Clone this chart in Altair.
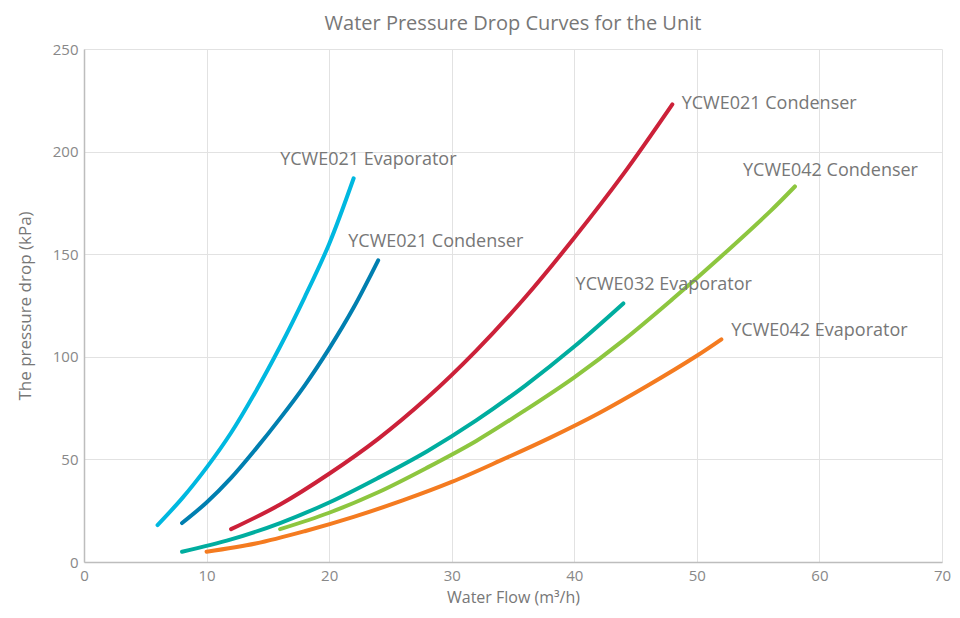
import altair as alt
import pandas as pd

# ---- data ----
series_names = [
    "YCWE021 Evaporator",
    "YCWE021 Condenser (small)",
    "YCWE021 Condenser",
    "YCWE032 Evaporator",
    "YCWE042 Condenser",
    "YCWE042 Evaporator",
]
series_colors = ["#00b8e0", "#007fb0", "#cc2139", "#00ad9f", "#8dc63f", "#f47b20"]

evap021_x = [6, 8, 10, 12, 14, 16, 18, 20, 22]
evap021_y = [18, 31, 46, 63, 83, 105, 129, 155, 187]

cond021s_x = [8, 10, 12, 14, 16, 18, 20, 22, 24]
cond021s_y = [19, 29, 41, 55, 70, 86, 104, 124, 147]

cond021_x = [12, 16, 20, 24, 28, 32, 36, 40, 44, 48]
cond021_y = [16, 28, 43, 60, 80, 103, 129, 158, 189, 223]

evap032_x = [8, 12, 16, 20, 24, 28, 32, 36, 40, 44]
evap032_y = [5, 11, 19, 29, 41, 54, 69, 86, 105, 126]

cond042_x = [16, 20, 24, 28, 32, 36, 40, 44, 48, 52, 56, 58]
cond042_y = [16, 24, 34, 46, 59, 74, 90, 108, 128, 149, 171, 183]

evap042_x = [10, 14, 18, 22, 26, 30, 34, 38, 42, 46, 50, 52]
evap042_y = [5, 9, 15, 22, 30, 39, 49.5, 60.5, 72.5, 86, 100.5, 108.5]

label_texts = [
    "YCWE021 Evaporator",
    "YCWE021 Condenser",
    "YCWE021 Condenser",
    "YCWE032 Evaporator",
    "YCWE042 Condenser",
    "YCWE042 Evaporator",
]
label_x = [23.2, 28.7, 55.9, 47.3, 60.9, 60.0]
label_y = [196, 156, 223, 135, 190.5, 112.6]

x_ticks = [0, 10, 20, 30, 40, 50, 60, 70]
y_ticks = [0, 50, 100, 150, 200, 250]

# ---- build tables ----
all_x = [evap021_x, cond021s_x, cond021_x, evap032_x, cond042_x, evap042_x]
all_y = [evap021_y, cond021s_y, cond021_y, evap032_y, cond042_y, evap042_y]
rows = []
for name, xs, ys in zip(series_names, all_x, all_y):
    for i, (xv, yv) in enumerate(zip(xs, ys)):
        rows.append({"series": name, "flow": xv, "drop": yv, "order": i})
df = pd.DataFrame(rows)
labels = pd.DataFrame({"text": label_texts, "flow": label_x, "drop": label_y})

FONT = "Open Sans"
TXT = "#777777"

xscale = alt.Scale(domain=[0, 70], nice=False, zero=True)
yscale = alt.Scale(domain=[0, 250], nice=False)

lines = alt.Chart(df).mark_line(
    strokeWidth=4, strokeCap="round", interpolate="catmull-rom"
).encode(
    x=alt.X("flow:Q", scale=xscale,
            axis=alt.Axis(title="Water Flow (m³/h)", values=x_ticks)),
    y=alt.Y("drop:Q", scale=yscale,
            axis=alt.Axis(title="The pressure drop (kPa)", values=y_ticks)),
    color=alt.Color("series:N",
                    scale=alt.Scale(domain=series_names, range=series_colors),
                    legend=None),
    detail="series:N",
    order="order:Q",
)

texts = alt.Chart(labels).mark_text(
    font=FONT, fontSize=18, color=TXT, align="center", baseline="middle"
).encode(
    x=alt.X("flow:Q", scale=xscale),
    y=alt.Y("drop:Q", scale=yscale),
    text="text:N",
)

chart = alt.layer(lines, texts).properties(
    width=858,
    height=513,
    autosize=alt.AutoSizeParams(type="none"),
    padding={"left": 76, "top": 41, "right": 9, "bottom": 47},
    title=alt.TitleParams(
        "Water Pressure Drop Curves for the Unit",
        font=FONT, fontSize=20, fontWeight="normal", color=TXT,
        anchor="middle", offset=8,
    ),
).configure_view(
    stroke=None
).configure_axis(
    grid=True,
    gridColor="#e2e2e2",
    gridWidth=1,
    domainColor="#bdbdbd",
    domainWidth=1.5,
    ticks=False,
    labelFlush=False,
    labelFont=FONT,
    labelFontSize=15,
    labelColor="#888888",
    titleFont=FONT,
    titleFontSize=16,
    titleFontWeight="normal",
    titleColor=TXT,
).configure_axisX(
    labelPadding=6,
    titlePadding=6,
).configure_axisY(
    labelPadding=6,
    titlePadding=18,
    titleFontSize=17,
)

chart.save("out.html", embed_options={"renderer": "svg", "actions": False})
